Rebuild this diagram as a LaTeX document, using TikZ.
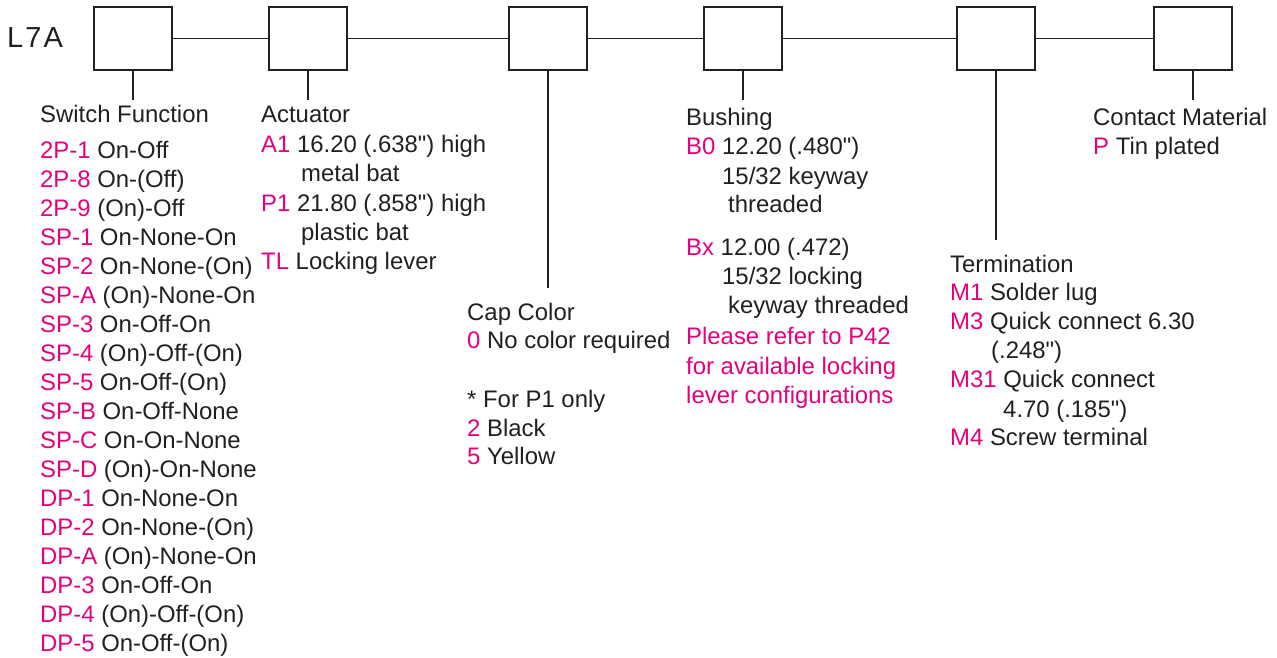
\documentclass[tikz,border=0pt]{standalone}
\usepackage{fontspec}
\setmainfont{Liberation Sans}[Ligatures=TeXOff]
\usepackage{xcolor}
\usepackage{tikz}
\usetikzlibrary{positioning}
\definecolor{CodePink}{RGB}{229,0,126}
\definecolor{InkBlack}{RGB}{35,31,32}
\newcommand{\code}[1]{\textcolor{CodePink}{#1}}
\tikzset{
    optbox/.style={draw=InkBlack, line width=1.8pt, fill=white, minimum width=78pt, minimum height=63pt, inner sep=0pt},
    entry/.style={anchor=base west, inner sep=0pt, text=InkBlack, font=\fontsize{23.9}{28}\selectfont},
    link/.style={draw=InkBlack, line width=1.8pt}
}
\begin{document}
\begin{tikzpicture}[x=1pt, y=-1pt]
        \useasboundingbox (0,0) rectangle (1277,658);

        % --- MÃ SẢN PHẨM ---
        \node[entry, font=\fontsize{29}{32}\selectfont\addfontfeatures{LetterSpace=7}] (model) at (7,48) {L7A};

        % --- CÁC Ô CHỌN ---
        \node[optbox] (sw)   at (133,38.5) {};
        \node[optbox] (act)  at (308,38.5) {};
        \node[optbox] (cap)  at (548,38.5) {};
        \node[optbox] (bush) at (743,38.5) {};
        \node[optbox] (term) at (996,38.5) {};
        \node[optbox] (cont) at (1193,38.5) {};
        \draw[link] (sw) -- (act) -- (cap) -- (bush) -- (term) -- (cont);

        % Chân nối xuống từng cột
        \coordinate (swend)   at (133,100);
        \coordinate (actend)  at (308,100);
        \coordinate (capend)  at (548,288);
        \coordinate (bushend) at (743,100);
        \coordinate (termend) at (996,240);
        \coordinate (contend) at (1193,100);
        \draw[link] (sw.south) -- (swend);
        \draw[link] (act.south) -- (actend);
        \draw[link] (cap.south) -- (capend);
        \draw[link] (bush.south) -- (bushend);
        \draw[link] (term.south) -- (termend);
        \draw[link] (cont.south) -- (contend);

        % --- SWITCH FUNCTION ---
        \node[entry] (swh) at (40,123) {Switch Function};
        \foreach \c/\t [count=\i from 0] in {2P-1/On-Off, 2P-8/On-(Off), 2P-9/(On)-Off,
            SP-1/On-None-On, SP-2/On-None-(On), SP-A/(On)-None-On, SP-3/On-Off-On,
            SP-4/(On)-Off-(On), SP-5/On-Off-(On), SP-B/On-Off-None, SP-C/On-On-None,
            SP-D/(On)-On-None, DP-1/On-None-On, DP-2/On-None-(On), DP-A/(On)-None-On,
            DP-3/On-Off-On, DP-4/(On)-Off-(On), DP-5/On-Off-(On)}
            \node[entry] (sw\i) at (40,158+29*\i) {\code{\c} \t};

        % --- ACTUATOR ---
        \node[entry] (acth) at (261,123) {Actuator};
        \node[entry] (act1) at (261,153) {\code{A1} 16.20 (.638") high};
        \node[entry] (act2) at (301,182) {metal bat};
        \node[entry] (act3) at (261,211) {\code{P1} 21.80 (.858") high};
        \node[entry] (act4) at (301,240) {plastic bat};
        \node[entry] (act5) at (261,269) {\code{TL} Locking lever};

        % --- CAP COLOR ---
        \node[entry] (caph) at (467,320) {Cap Color};
        \node[entry] (cap1) at (467,348) {\code{0} No color required};
        \node[entry] (cap2) at (467,407) {* For P1 only};
        \node[entry] (cap3) at (467,436) {\code{2} Black};
        \node[entry] (cap4) at (467,464) {\code{5} Yellow};

        % --- BUSHING ---
        \node[entry] (bushh) at (686,126) {Bushing};
        \node[entry] (bush1) at (686,155) {\code{B0} 12.20 (.480")};
        \node[entry] (bush2) at (722,184) {15/32 keyway};
        \node[entry] (bush3) at (728,212) {threaded};
        \node[entry] (bush4) at (686,255) {\code{Bx} 12.00 (.472)};
        \node[entry] (bush5) at (722,284) {15/32 locking};
        \node[entry] (bush6) at (728,313) {keyway threaded};
        \node[entry, text=CodePink] (note1) at (686,344) {Please refer to P42};
        \node[entry, text=CodePink] (note2) at (686,374) {for available locking};
        \node[entry, text=CodePink] (note3) at (686,403) {lever configurations};

        % --- TERMINATION ---
        \node[entry] (termh) at (950,272) {Termination};
        \node[entry] (term1) at (950,300) {\code{M1} Solder lug};
        \node[entry] (term2) at (950,329) {\code{M3} Quick connect 6.30};
        \node[entry] (term3) at (991,358) {(.248")};
        \node[entry] (term4) at (950,387) {\code{M31} Quick connect};
        \node[entry] (term5) at (1003,417) {4.70 (.185")};
        \node[entry] (term6) at (950,445) {\code{M4} Screw terminal};

        % --- CONTACT MATERIAL ---
        \node[entry] (conth) at (1093,126) {Contact Material};
        \node[entry] (cont1) at (1093,155) {\code{P} Tin plated};

    \end{tikzpicture}
\end{document}
